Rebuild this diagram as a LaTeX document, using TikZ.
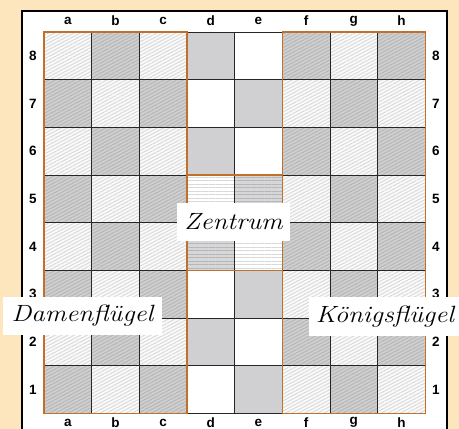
\documentclass[tikz,border=0pt]{standalone}
\usepackage{fontspec}
\setsansfont{Liberation Sans}
\usetikzlibrary{patterns.meta}
\definecolor{bg}{HTML}{FDE6BE}
\definecolor{plaindark}{HTML}{D0D0D2}
\definecolor{wingdarkfill}{HTML}{D0D0D0}
\definecolor{wingdarkline}{HTML}{B6B6B6}
\definecolor{winglightfill}{HTML}{FAFAFA}
\definecolor{winglightline}{HTML}{D8D8D8}
\definecolor{zonecol}{HTML}{C0702A}
\tikzset{
  winglight/.style={fill=winglightfill, postaction={pattern={Lines[angle=28,distance=3pt,line width=0.9pt]}, pattern color=winglightline}},
  wingdark/.style={fill=wingdarkfill, postaction={pattern={Lines[angle=28,distance=3pt,line width=1pt]}, pattern color=wingdarkline}},
  centerlight/.style={fill=white, postaction={pattern={Lines[angle=0,distance=3.5pt,line width=0.5pt]}, pattern color=winglightline}},
  centerdark/.style={fill=plaindark!85, postaction={pattern={Lines[angle=0,distance=3.5pt,line width=0.5pt]}, pattern color=wingdarkline}},
  plainlight/.style={fill=white},
  plaindarksq/.style={fill=plaindark},
  gridline/.style={draw=black!85, line width=0.6pt},
  zone/.style={draw=zonecol, line width=1.3pt},
  coord/.style={font=\sffamily\bfseries\fontsize{13.5}{14}\selectfont, inner sep=0pt},
  wing/.style={fill=white, inner sep=0pt, font=\fontsize{23.5}{26}\selectfont\itshape}
}
\newcommand\wingtext[1]{\scalebox{1.14}[1]{#1}}
\begin{document}
\begin{tikzpicture}[x=1pt,y=-1pt]
\useasboundingbox (0,0) rectangle (459,429);
\fill[bg] (0,0) rectangle (459,429);
\begin{scope}
\clip (0,0) rectangle (459,429);
\draw[line width=1.6pt, fill=white] (22,11) rectangle (447,445);
\end{scope}
\def\sq{47.66}
\foreach \f in {1,...,8}{
  \foreach \r in {1,...,8}{
    \pgfmathsetmacro\xa{44+(\f-1)*\sq}
    \pgfmathsetmacro\ya{32+(8-\r)*\sq}
    \pgfmathsetmacro\xb{\xa+\sq}
    \pgfmathsetmacro\yb{\ya+\sq}
    \pgfmathtruncatemacro\dk{mod(\f+\r,2)==0 ? 1 : 0}
    \pgfmathtruncatemacro\reg{(\f==4 || \f==5) ? ((\r==4 || \r==5) ? 2 : 1) : 0}
    \ifnum\reg=0
      \ifnum\dk=1 \path[wingdark] (\xa,\ya) rectangle (\xb,\yb);
      \else \path[winglight] (\xa,\ya) rectangle (\xb,\yb); \fi
    \else\ifnum\reg=1
      \ifnum\dk=1 \path[plaindarksq] (\xa,\ya) rectangle (\xb,\yb);
      \else \path[plainlight] (\xa,\ya) rectangle (\xb,\yb); \fi
    \else
      \ifnum\dk=1 \path[centerdark] (\xa,\ya) rectangle (\xb,\yb);
      \else \path[centerlight] (\xa,\ya) rectangle (\xb,\yb); \fi
    \fi\fi
    \path[gridline] (\xa,\ya) rectangle (\xb,\yb);
  }
}
% zones
\coordinate (qa) at (44,32);
\coordinate (qb) at (186.98,413.28);
\coordinate (ka) at (282.3,32);
\coordinate (kb) at (425.28,413.28);
\coordinate (ca) at (186.98,174.98);
\coordinate (cb) at (282.3,270.3);
\draw[zone] (qa) rectangle (qb);
\draw[zone] (ka) rectangle (kb);
\draw[zone] (ca) rectangle (cb);
% coordinates
\foreach \l [count=\i] in {a,b,c,d,e,f,g,h}{
  \pgfmathsetmacro\xc{44+(\i-0.5)*\sq}
  \node[coord] (top\l) at (\xc,21) {\l};
  \node[coord] (bot\l) at (\xc,422.5) {\l};
}
\foreach \r in {1,...,8}{
  \pgfmathsetmacro\yc{32+(8.5-\r)*\sq}
  \node[coord] (left\r) at (33,\yc) {\r};
  \node[coord] (right\r) at (436,\yc) {\r};
}
% wing labels
\node[wing, minimum width=113pt, minimum height=38pt] (zentrum) at (233.5,222) {\wingtext{Zentrum}};
\node[wing, minimum width=159pt, minimum height=38pt] (damen) at (82.5,316) {\wingtext{Damenflügel}};
\node[wing, minimum width=152pt, minimum height=39pt] (koenig) at (385,316.5) {\wingtext{Königsflügel}};
\end{tikzpicture}
\end{document}
